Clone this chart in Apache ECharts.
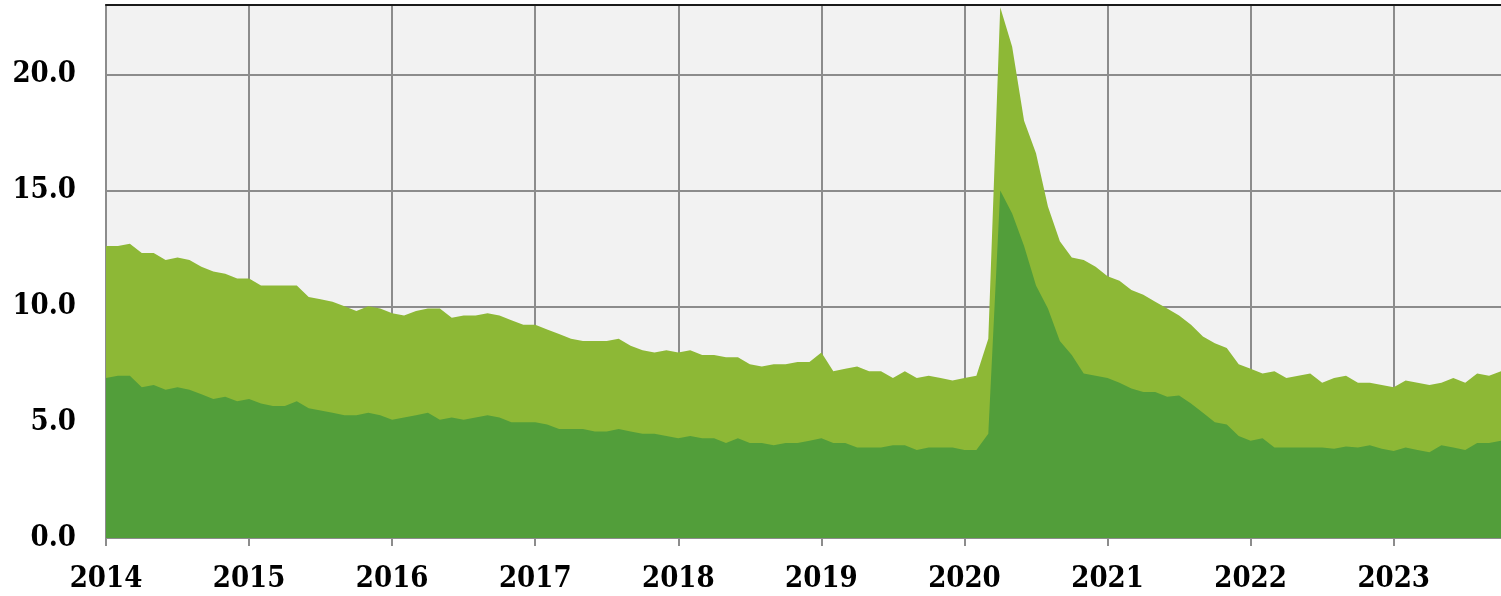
<!DOCTYPE html>
<html>
<head>
<meta charset="utf-8">
<script src="https://cdn.jsdelivr.net/npm/echarts@6/dist/echarts.min.js"></script>
<style>
  html, body { margin: 0; padding: 0; background: #fff; }
  #chart { width: 1501px; height: 596px; }
</style>
</head>
<body>
<div id="chart"></div>
<script>
// monthly, Jan 2014 .. Oct 2023
const months = [];
for (let y = 2014; y <= 2023; y++) {
  for (let m = 1; m <= 12; m++) {
    if (y === 2023 && m > 10) break;
    months.push(y + "-" + (m < 10 ? "0" + m : m));
  }
}

// light green (upper) series
const upper = [
  12.6, 12.6, 12.7, 12.3, 12.3, 12.0, 12.1, 12.0, 11.7, 11.5, 11.4, 11.2,
  11.2, 10.9, 10.9, 10.9, 10.9, 10.4, 10.3, 10.2, 10.0, 9.8, 10.0, 9.9,
  9.7, 9.6, 9.8, 9.9, 9.9, 9.5, 9.6, 9.6, 9.7, 9.6, 9.4, 9.2,
  9.2, 9.0, 8.8, 8.6, 8.5, 8.5, 8.5, 8.6, 8.3, 8.1, 8.0, 8.1,
  8.0, 8.1, 7.9, 7.9, 7.8, 7.8, 7.5, 7.4, 7.5, 7.5, 7.6, 7.6,
  8.0, 7.2, 7.3, 7.4, 7.2, 7.2, 6.9, 7.2, 6.9, 7.0, 6.9, 6.8,
  6.9, 7.0, 8.6, 22.9, 21.2, 18.0, 16.6, 14.3, 12.8, 12.1, 12.0, 11.7,
  11.3, 11.1, 10.7, 10.5, 10.2, 9.9, 9.6, 9.2, 8.7, 8.4, 8.2, 7.5,
  7.3, 7.1, 7.2, 6.9, 7.0, 7.1, 6.7, 6.9, 7.0, 6.7, 6.7, 6.6,
  6.5, 6.8, 6.7, 6.6, 6.7, 6.9, 6.7, 7.1, 7.0, 7.2
];

// dark green (lower) series
const lower = [
  6.9, 7.0, 7.0, 6.5, 6.6, 6.4, 6.5, 6.4, 6.2, 6.0, 6.1, 5.9,
  6.0, 5.8, 5.7, 5.7, 5.9, 5.6, 5.5, 5.4, 5.3, 5.3, 5.4, 5.3,
  5.1, 5.2, 5.3, 5.4, 5.1, 5.2, 5.1, 5.2, 5.3, 5.2, 5.0, 5.0,
  5.0, 4.9, 4.7, 4.7, 4.7, 4.6, 4.6, 4.7, 4.6, 4.5, 4.5, 4.4,
  4.3, 4.4, 4.3, 4.3, 4.1, 4.3, 4.1, 4.1, 4.0, 4.1, 4.1, 4.2,
  4.3, 4.1, 4.1, 3.9, 3.9, 3.9, 4.0, 4.0, 3.8, 3.9, 3.9, 3.9,
  3.8, 3.8, 4.5, 15.0, 14.0, 12.6, 10.9, 9.9, 8.5, 7.9, 7.1, 7.0,
  6.9, 6.7, 6.45, 6.3, 6.3, 6.1, 6.15, 5.8, 5.4, 5.0, 4.9, 4.4,
  4.2, 4.3, 3.9, 3.9, 3.9, 3.9, 3.9, 3.85, 3.95, 3.9, 4.0, 3.85,
  3.75, 3.9, 3.8, 3.7, 4.0, 3.9, 3.8, 4.1, 4.1, 4.2
];

const yTicks = [0, 5, 10, 15, 20];

const labelFont = {
  color: "#000",
  fontFamily: "'DejaVu Serif Condensed', 'DejaVu Serif', serif",
  fontWeight: "bold",
  fontSize: 29,
};
const gridGray = "#8c8c8c";

const option = {
  backgroundColor: "#fff",
  animation: false,
  grid: {
    left: 106,
    right: -1,
    top: 5,
    bottom: 58,
    show: true,
    backgroundColor: "#f2f2f2",
    borderWidth: 0,
  },
  xAxis: [
    {
      type: "category",
      data: months,
      boundaryGap: false,
      axisLine: { lineStyle: { color: gridGray, width: 2 } },
      axisTick: { interval: 11, length: 8, lineStyle: { color: gridGray, width: 2 } },
      axisLabel: {
        ...labelFont,
        interval: 11,
        margin: 27,
        formatter: (v) => v.slice(0, 4),
      },
      splitLine: { show: true, interval: 11, lineStyle: { color: gridGray, width: 2 } },
    },
    {
      // dark top border of the plot
      type: "category",
      data: months,
      position: "top",
      boundaryGap: false,
      axisLine: { lineStyle: { color: "#1a1a1a", width: 2 } },
      axisTick: { show: false },
      axisLabel: { show: false },
      splitLine: { show: false },
    },
  ],
  yAxis: {
    type: "value",
    min: yTicks[0],
    max: 23,
    interval: 5,
    axisLine: { show: true, lineStyle: { color: gridGray, width: 2 } },
    axisTick: { show: false },
    axisLabel: {
      ...labelFont,
      margin: 30,
      formatter: (v) => (yTicks.indexOf(v) >= 0 ? v.toFixed(1) : ""),
    },
    splitLine: { lineStyle: { color: gridGray, width: 2 } },
  },
  series: [
    {
      type: "line",
      data: upper,
      showSymbol: false,
      lineStyle: { width: 0 },
      areaStyle: { color: "#8db836", opacity: 1 },
    },
    {
      type: "line",
      data: lower,
      showSymbol: false,
      lineStyle: { width: 0 },
      areaStyle: { color: "#529e3a", opacity: 1 },
    },
  ],
};

const myChart = echarts.init(document.getElementById("chart"));
myChart.setOption(option);
</script>
</body>
</html>
